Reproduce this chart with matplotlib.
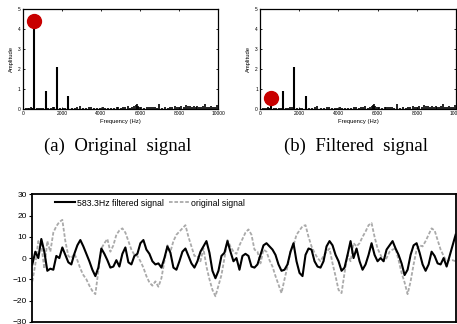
import matplotlib.pyplot as plt
import numpy as np

plt.rcParams['font.family'] = ['Liberation Sans', 'DejaVu Sans']

# spectrum: main harmonics
peak_freq = [583.3, 1166.6, 1750, 2333]
peak_amp_orig = [4.4, 0.92, 2.12, 0.65]
peak_amp_filt = [0.55, 0.92, 2.12, 0.65]

# spectrum: small noise peaks (shared by both panels)
noise_freq = [150, 250, 330, 400, 470, 520, 700, 820, 950, 1050, 1300, 1450, 1550, 1620,
              1900, 2050, 2150, 2500, 2650, 2800, 2930, 3100, 3250, 3400, 3500, 3650,
              3800, 3950, 4100, 4200, 4350, 4500, 4650, 4800, 4900, 5050, 5150, 5250,
              5370, 5500, 5600, 5700, 5780, 5830, 5880, 5950, 6050, 6200, 6350, 6450,
              6550, 6650, 6750, 6850, 7000, 7150, 7300, 7450, 7550, 7650, 7800, 7900,
              8000, 8130, 8250, 8380, 8450, 8550, 8650, 8750, 8850, 8950, 9050, 9150,
              9250, 9350, 9450, 9550, 9650, 9750, 9850, 9950]
noise_amp = [0.03, 0.05, 0.06, 0.07, 0.05, 0.06, 0.04, 0.05, 0.04, 0.03, 0.05, 0.06, 0.1, 0.08,
             0.05, 0.04, 0.06, 0.05, 0.04, 0.07, 0.15, 0.06, 0.04, 0.08, 0.1, 0.05,
             0.06, 0.04, 0.1, 0.06, 0.04, 0.05, 0.06, 0.07, 0.09, 0.05, 0.07, 0.08,
             0.15, 0.06, 0.1, 0.12, 0.18, 0.25, 0.15, 0.1, 0.08, 0.06, 0.09, 0.1,
             0.07, 0.1, 0.08, 0.06, 0.25, 0.06, 0.08, 0.05, 0.1, 0.09, 0.12, 0.08,
             0.1, 0.15, 0.09, 0.2, 0.12, 0.16, 0.1, 0.12, 0.08, 0.14, 0.1, 0.09,
             0.12, 0.25, 0.08, 0.1, 0.12, 0.09, 0.1, 0.2]

# time signals (one value every ~3 px)
filtered = [-3, 3, 0, 9, 3, -6, -5, -5.5, 1, 0, 5, 1.5, -2, -3, 2, 6, 8.5, 5.5, 2, -1.5,
            -5.5, -8.5, -4.5, 4.5, 2, -1, -4.5, -4, -1, -4, 2, 5, -2, -3, 1, 2,
            7, 8.5, 4, 2, -1.5, -3, -2.5, -4.5, 0, 5.5, 2.5, -4.5, -5.5, -1.5, 3, 4.5,
            1, -2.5, -4.5, -1.5, 3, 5.5, 8, 2.5, -6, -9.5, -6, 1, 2.5, 8, 3, -1.5,
            0, -5.5, 1, 2, 1, -4, -4.5, -3, 1.5, 6, 7, 5.5, 4, 1.5, -3, -6, -5.5, -3,
            3, 7, -1.5, -7, -8.5, 1.5, 4.5, 4, -1.5, -4, -4.5, -1.5, 5.5, 8, 6, 1.5,
            -1.5, -6, -4.5, 1.5, 8, 0, 4.5, -1.5, -5.5, -3, 1.5, 7, 1.5, -1.5, 0, -1.5,
            4, 6, 8, 4.5, 1.5, -2.5, -8, -5.5, 1.5, 6, 7, 2.5, -3, -6, -3, 3, 1, -2.5,
            -3, 0, -4, 1, 6, 11]
original = [-11, -3, 8, 6, -5, 8, 3, 12, 15, 17, 18, 8, 1, 0, 2, -1, -5, -8, -10, -13,
            -15.5, -17, -6, 4.5, 7, 9, 3, 6, 11, 13, 14, 12, 8, 4, 1.5, 1,
            -1.5, -4.5, -8.5, -11.5, -13, -11, -13.5, -9.5, -1.5, 6, 3, 8, 11, 12.5, 14,
            15.5, 10, 5.5, 1, 1, -1.5, 4.5, -4, -10, -15, -18, -13, -8, 0, 8.5, 5.5, 3,
            2, 6, 9, 12, 13.5, 11, 4, 3, -2.5, 4, 3, -1, -4, -8.5, -12.5, -16.5, -10,
            -4, 3, 6, 11, 13, 15, 15.5, 10, 5.5, 2.5, 0, -1.5, 1, 3, 4.5, -2.5, -8.5,
            -15, -16.5, -7, 1.5, -1.5, 7, 5.5, 7, 10, 12.5, 15.5, 16.5, 10, 4.5, 1.5,
            -1.5, 0, 3, 4, 4.5, -1, -7, -11.5, -17, -11, -3, 4, 6, 5.5, 8, 11, 14, 13,
            8.5, 4, 1, -1.5, -1, -1, -1.5]

fig = plt.figure(figsize=(4.57, 3.24), dpi=100)


def spectrum(rect, main_amp):
    ax = fig.add_axes(rect)
    ax.vlines(noise_freq, 0, noise_amp, color='black', lw=1.2)
    ax.vlines(peak_freq, 0, main_amp, color='black', lw=1.5)
    ax.plot(peak_freq[0], main_amp[0], 'o', color='#c80000', ms=10, zorder=5, clip_on=False)
    ax.set_xlim(0, 10000)
    ax.set_ylim(0, 5)
    ax.set_xticks(np.arange(0, 10001, 2000))
    ax.set_yticks(np.arange(0, 6, 1))
    ax.tick_params(direction='in', top=True, right=True, labelsize=3.5,
                   length=1.5, width=0.6, pad=1.5)
    ax.set_xlabel('Frequency (Hz)', fontsize=4.2, labelpad=2)
    ax.set_ylabel('Amplitude', fontsize=4.2, labelpad=3)
    for s in ax.spines.values():
        s.set_linewidth(0.9)
    return ax


spectrum([0.050, 0.664, 0.427, 0.308], peak_amp_orig)
spectrum([0.569, 0.664, 0.429, 0.308], peak_amp_filt)

fig.text(0.258, 0.549, '(a)  Original  signal', fontsize=13.5, family='Liberation Serif',
         ha='center', va='center')
fig.text(0.779, 0.549, '(b)  Filtered  signal', fontsize=13.5, family='Liberation Serif',
         ha='center', va='center')

ax3 = fig.add_axes([0.0707, 0.007, 0.9263, 0.393])
t = np.arange(len(filtered))
ax3.plot(t, filtered, color='black', lw=1.5, label='583.3Hz filtered signal', zorder=3)
ax3.plot(t, original, color='#aaaaaa', lw=1.3, ls=(0, (2, 1)), label='original signal', zorder=2)
ax3.set_xlim(0, len(filtered) - 1)
ax3.set_ylim(-30, 30)
ax3.set_yticks(np.arange(-30, 31, 10))
ax3.set_xticks([])
ax3.tick_params(axis='y', direction='out', length=2, width=0.8, labelsize=6, pad=2)
for s in ax3.spines.values():
    s.set_linewidth(1.3)
ax3.legend(loc='upper left', bbox_to_anchor=(0.045, 0.995), ncol=2, frameon=False,
           fontsize=6.3, handlelength=2.3, handletextpad=0.2, columnspacing=0.6,
           borderaxespad=0)

fig.savefig('out.png', dpi=100)
